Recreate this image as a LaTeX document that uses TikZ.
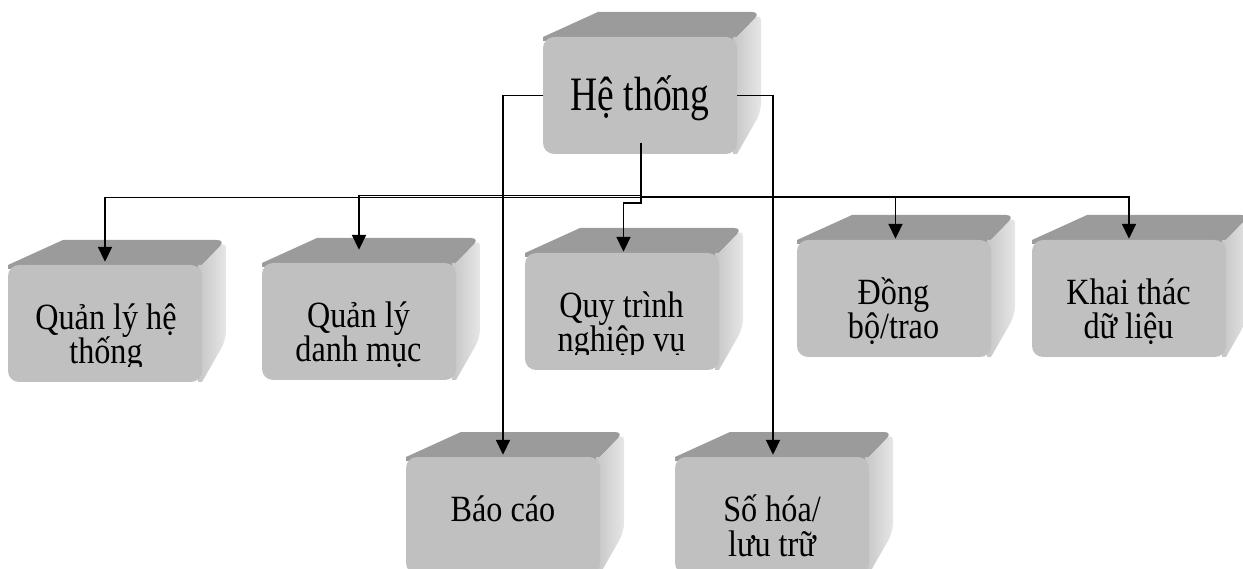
\documentclass[tikz,border=0pt]{standalone}
\usepackage{fontspec}
\setmainfont{Liberation Serif}
\newfontfamily\bigfont[FakeStretch=0.78]{Liberation Serif}
\newfontfamily\smfont[FakeStretch=0.87]{Liberation Serif}
\usetikzlibrary{arrows.meta}
\definecolor{topc}{HTML}{9B9B9B}
\definecolor{frontc}{HTML}{C0C0C0}
\definecolor{sidel}{HTML}{C6C6C6}
\definecolor{sider}{HTML}{E6E6E6}
\tikzset{
  frontface/.style={fill=frontc, draw=none, rounded corners=11pt, minimum width=194pt, minimum height=117pt, inner sep=0pt},
  lbl/.style={font=\smfont\fontsize{37}{34}\selectfont, inner sep=0pt, anchor=base},
  biglbl/.style={font=\bigfont\fontsize{48}{50}\selectfont, inner sep=0pt, anchor=base},
  conn/.style={draw=black, line width=1.9pt, -{Triangle[length=15pt,width=14pt]}}
}
% #1 name, #2 x of front-left, #3 y of front-top (image coords)
\newcommand\cubebox[3]{%
  \fill[topc] (#2,#3+4) -- (#2,#3) -- (#2+55,#3-25) [rounded corners=9pt] -- (#2+218,#3-25) [sharp corners] -- (#2+194,#3) -- (#2+194,#3+4) -- cycle;
  \shade[left color=sidel, right color=sider] (#2+190,#3) -- (#2+194,#3) [rounded corners=9pt] -- (#2+218,#3-25) -- (#2+218,#3+75) [sharp corners] -- (#2+194,#3+117) -- (#2+190,#3+117) -- cycle;
  \node[frontface] (#1) at (#2+97,#3+58.5) {};
}
\begin{document}
\begin{tikzpicture}[x=1pt,y=-1pt]
\useasboundingbox (0,0) rectangle (1243,569);
\clip (0,0) rectangle (1243,569);
% boxes
\cubebox{h}{543}{37}
\cubebox{q1}{8}{265}
\cubebox{q2}{262}{263}
\cubebox{qt}{525}{253}
\cubebox{db}{797}{240}
\cubebox{kt}{1032}{240}
\cubebox{bc}{406}{457}
\cubebox{sh}{675}{457}
% texts
\node[biglbl] (h-t) at (640,111) {Hệ thống};
\node[lbl] (q1-a) at (106,330) {Quản lý hệ};
\begin{scope}
  \clip (8,335) rectangle (202,367);
  \node[lbl] (q1-b) at (106,364) {thống};
\end{scope}
\node[lbl] (q2-a) at (358.5,328) {Quản lý};
\node[lbl] (q2-b) at (358.5,362) {danh mục};
\node[lbl] (qt-a) at (621.5,318) {Quy trình};
\begin{scope}
  \clip (525,322) rectangle (718,355);
  \node[lbl] (qt-b) at (621.5,352) {nghiệp vụ};
\end{scope}
\node[lbl] (db-a) at (893.5,305) {Đồng};
\node[lbl] (db-b) at (893.5,339) {bộ/trao};
\node[lbl] (kt-a) at (1128.5,305) {Khai thác};
\node[lbl] (kt-b) at (1128.5,339) {dữ liệu};
\node[lbl] (bc-a) at (503,521) {Báo cáo};
\node[lbl] (sh-a) at (772,521) {Số hóa/};
\node[lbl] (sh-b) at (772,556) {lưu trữ};
% connectors
\coordinate (stem) at (641,143);
\coordinate (bus1) at (641,197.5);
\coordinate (bus2) at (641,195.5);
\coordinate (bus3) at (641,203);
\coordinate (bus4) at (641,197);
\draw[conn, shorten >=3pt] (stem) -- (bus1) -| (q1.north);
\draw[conn, shorten >=13pt] (stem) -- (bus2) -| (q2.north);
\draw[conn, shorten >=1pt] (stem) -- (bus3) -| ([xshift=1.5pt]qt.north);
\draw[conn, shorten >=1pt] (stem) -- (bus4) -| ([xshift=1.5pt]db.north);
\draw[conn, shorten >=1pt] (stem) -- (bus4) -| (kt.north);
\draw[conn, shorten >=2pt] (h.west) -| (bc.north);
\draw[conn, shorten >=2pt] (h.east) -| ([xshift=1pt]sh.north);
\end{tikzpicture}
\end{document}
